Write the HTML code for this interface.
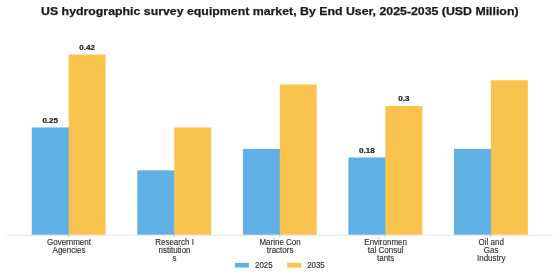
<!DOCTYPE html>
<html><head><meta charset="utf-8"><style>
html,body{margin:0;padding:0;background:#fff;width:560px;height:280px;overflow:hidden}
svg{display:block;filter:blur(0.35px)}
text{font-family:"Liberation Sans",sans-serif}
.title{font-size:11.4px;font-weight:bold;fill:#1a1a1a;stroke:#1a1a1a;stroke-width:0.25px}
.val{font-size:7.2px;font-weight:bold;fill:#222;stroke:#222;stroke-width:0.2px}
.tick{font-size:8.3px;fill:#333;stroke:#333;stroke-width:0.15px}
.leg{font-size:8.6px;fill:#333;stroke:#333;stroke-width:0.15px}
</style></head><body>
<svg width="560" height="280" viewBox="0 0 560 280">
<line x1="6.9" y1="235.20" x2="552.5" y2="235.20" stroke="#E0E0E0" stroke-width="0.9"/>
<rect x="31.76" y="127.45" width="37.54" height="107.25" fill="#60B0E6"/>
<rect x="68.70" y="54.52" width="36.94" height="180.18" fill="#FAC34E"/>
<line x1="68.70" y1="234.70" x2="68.70" y2="237.10" stroke="#aaa" stroke-width="0.8"/>
<text x="50.23" y="122.95" class="val" text-anchor="middle" transform="translate(50.23,0) scale(1.12,1) translate(-50.23,0)">0.25</text>
<text x="87.17" y="50.02" class="val" text-anchor="middle" transform="translate(87.17,0) scale(1.12,1) translate(-87.17,0)">0.42</text>
<text x="69.00" y="245.50" class="tick" text-anchor="middle" transform="translate(69.00,0) scale(0.965,1) translate(-69.00,0)">Government</text>
<text x="69.00" y="253.20" class="tick" text-anchor="middle" transform="translate(69.00,0) scale(0.965,1) translate(-69.00,0)">Agencies</text>
<rect x="137.31" y="170.35" width="37.54" height="64.35" fill="#60B0E6"/>
<rect x="174.25" y="127.45" width="36.94" height="107.25" fill="#FAC34E"/>
<line x1="174.25" y1="234.70" x2="174.25" y2="237.10" stroke="#aaa" stroke-width="0.8"/>
<text x="174.55" y="245.50" class="tick" text-anchor="middle" transform="translate(174.55,0) scale(0.965,1) translate(-174.55,0)">Research I</text>
<text x="174.55" y="253.20" class="tick" text-anchor="middle" transform="translate(174.55,0) scale(0.965,1) translate(-174.55,0)">nstitution</text>
<text x="174.55" y="260.90" class="tick" text-anchor="middle" transform="translate(174.55,0) scale(0.965,1) translate(-174.55,0)">s</text>
<rect x="242.86" y="148.90" width="37.54" height="85.80" fill="#60B0E6"/>
<rect x="279.80" y="84.55" width="36.94" height="150.15" fill="#FAC34E"/>
<line x1="279.80" y1="234.70" x2="279.80" y2="237.10" stroke="#aaa" stroke-width="0.8"/>
<text x="280.10" y="245.50" class="tick" text-anchor="middle" transform="translate(280.10,0) scale(0.965,1) translate(-280.10,0)">Marine Con</text>
<text x="280.10" y="253.20" class="tick" text-anchor="middle" transform="translate(280.10,0) scale(0.965,1) translate(-280.10,0)">tractors</text>
<rect x="348.41" y="157.48" width="37.54" height="77.22" fill="#60B0E6"/>
<rect x="385.35" y="106.00" width="36.94" height="128.70" fill="#FAC34E"/>
<line x1="385.35" y1="234.70" x2="385.35" y2="237.10" stroke="#aaa" stroke-width="0.8"/>
<text x="366.88" y="152.98" class="val" text-anchor="middle" transform="translate(366.88,0) scale(1.12,1) translate(-366.88,0)">0.18</text>
<text x="403.82" y="101.50" class="val" text-anchor="middle" transform="translate(403.82,0) scale(1.12,1) translate(-403.82,0)">0.3</text>
<text x="385.65" y="245.50" class="tick" text-anchor="middle" transform="translate(385.65,0) scale(0.965,1) translate(-385.65,0)">Environmen</text>
<text x="385.65" y="253.20" class="tick" text-anchor="middle" transform="translate(385.65,0) scale(0.965,1) translate(-385.65,0)">tal Consul</text>
<text x="385.65" y="260.90" class="tick" text-anchor="middle" transform="translate(385.65,0) scale(0.965,1) translate(-385.65,0)">tants</text>
<rect x="453.96" y="148.90" width="37.54" height="85.80" fill="#60B0E6"/>
<rect x="490.90" y="80.26" width="36.94" height="154.44" fill="#FAC34E"/>
<line x1="490.90" y1="234.70" x2="490.90" y2="237.10" stroke="#aaa" stroke-width="0.8"/>
<text x="491.20" y="245.50" class="tick" text-anchor="middle" transform="translate(491.20,0) scale(0.965,1) translate(-491.20,0)">Oil and</text>
<text x="491.20" y="253.20" class="tick" text-anchor="middle" transform="translate(491.20,0) scale(0.965,1) translate(-491.20,0)">Gas</text>
<text x="491.20" y="260.90" class="tick" text-anchor="middle" transform="translate(491.20,0) scale(0.965,1) translate(-491.20,0)">Industry</text>
<text x="279.8" y="14.7" class="title" text-anchor="middle" textLength="477.5" lengthAdjust="spacingAndGlyphs">US hydrographic survey equipment market, By End User, 2025-2035 (USD Million)</text>
<rect x="234.9" y="262.9" width="14" height="4.7" fill="#60B0E6"/>
<text x="255" y="267.9" class="leg" transform="translate(255,0) scale(0.92,1) translate(-255,0)">2025</text>
<rect x="287.1" y="262.9" width="14.3" height="4.7" fill="#FAC34E"/>
<text x="307.2" y="267.9" class="leg" transform="translate(307.2,0) scale(0.92,1) translate(-307.2,0)">2035</text>
</svg>
</body></html>
